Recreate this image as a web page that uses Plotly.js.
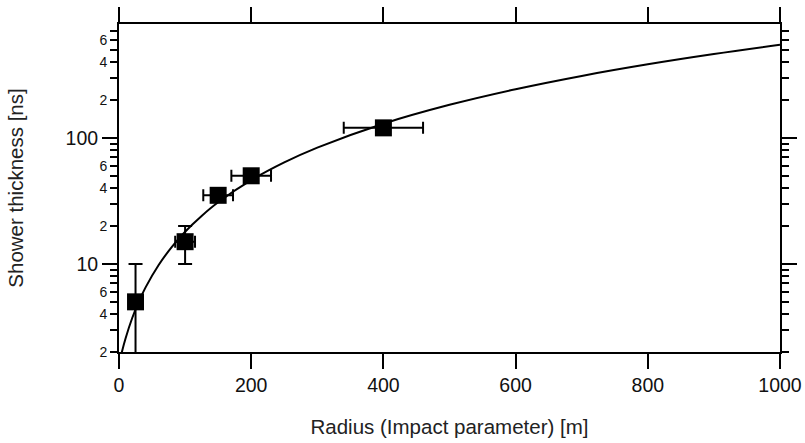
<!DOCTYPE html>
<html>
<head>
<meta charset="utf-8">
<script src="https://cdn.plot.ly/plotly-3.0.1.min.js"></script>
<style>html,body{margin:0;padding:0;background:#fff;}#chart{width:805px;height:443px;}</style>
</head>
<body>
<div id="chart"></div>
<script>
// Measured points
var radius = [25, 100, 150, 200, 400];
var thickness = [5, 15, 35, 50, 120];
var radiusErr = [3.75, 15, 22.5, 30, 60];
var thicknessErrPlus = [5, 5, 0, 0, 0];
var thicknessErrMinus = [5, 5, 0, 0, 0];

// Fitted curve
var curveX = [0, 4.35, 10, 20, 30, 40, 60, 80, 100, 125, 150, 200, 250, 300, 400, 500, 600, 700, 800, 900, 1000];
var curveY = [1.6, 2.0, 2.57, 3.72, 5.02, 6.48, 9.8, 13.65, 18.0, 24.0, 30.8, 46.1, 63.8, 83.6, 129.5, 182.8, 243.1, 310, 383, 462, 547];

// Tick labels
var xTicks = [0, 200, 400, 600, 800, 1000];
var yMajorTicks = [10, 100];
var yLabelledMinor = [2, 4, 6, 20, 40, 60, 200, 400, 600];
var yLabelledMinorText = ['2', '4', '6', '2', '4', '6', '2', '4', '6'];
var yPlainMinor = [3, 5, 7, 8, 9, 30, 50, 70, 80, 90, 300, 500, 700];

var FONT = 'Liberation Sans, Arial, Helvetica, sans-serif';
var yRange = [Math.log10(2), Math.log10(800)];

var traces = [
  {
    x: curveX, y: curveY, type: 'scatter', mode: 'lines',
    line: {color: '#000', width: 2, shape: 'spline'},
    hoverinfo: 'skip', showlegend: false
  },
  {
    x: radius, y: thickness, type: 'scatter', mode: 'markers',
    marker: {symbol: 'square', size: 17, color: '#000'},
    error_x: {type: 'data', array: radiusErr, visible: true, color: '#000', thickness: 2, width: 6},
    error_y: {type: 'data', array: thicknessErrPlus, arrayminus: thicknessErrMinus, symmetric: false, visible: true, color: '#000', thickness: 2, width: 7},
    showlegend: false
  },
  {x: [], y: [], yaxis: 'y2', type: 'scatter', showlegend: false},
  {x: [], y: [], yaxis: 'y3', type: 'scatter', showlegend: false}
];

var layout = {
  width: 805, height: 443,
  margin: {l: 119, r: 25, t: 24, b: 91},
  paper_bgcolor: '#fff', plot_bgcolor: '#fff',
  font: {family: FONT, color: '#000'},
  showlegend: false,
  xaxis: {
    range: [0, 1000], tickmode: 'array', tickvals: xTicks,
    ticks: 'outside', ticklen: 15, tickwidth: 2, tickcolor: '#000',
    showline: true, linecolor: '#000', linewidth: 2, mirror: 'ticks',
    showgrid: false, zeroline: false,
    tickfont: {size: 19.5, family: FONT, color: '#111'},
    title: {text: 'Radius (Impact parameter) [m]', font: {size: 20.5, family: FONT, color: '#222'}, standoff: 24}
  },
  yaxis: {
    type: 'log', range: yRange, tickmode: 'array', tickvals: yMajorTicks, ticktext: ['10', '100'],
    ticks: 'outside', ticklen: 15, tickwidth: 2, tickcolor: '#000',
    showline: true, linecolor: '#000', linewidth: 2, mirror: 'ticks',
    showgrid: false, zeroline: false,
    tickfont: {size: 19.5, family: FONT, color: '#111'},
    title: {text: 'Shower thickness [ns]', font: {size: 20.5, family: FONT, color: '#222'}, standoff: 36}
  },
  yaxis2: {
    type: 'log', range: yRange, overlaying: 'y', side: 'left', tickmode: 'array',
    tickvals: yLabelledMinor, ticktext: yLabelledMinorText,
    ticks: 'outside', ticklen: 8, tickwidth: 2, tickcolor: '#000',
    showline: false, mirror: 'ticks', showgrid: false, zeroline: false,
    tickfont: {size: 14, family: FONT, color: '#111'}
  },
  yaxis3: {
    type: 'log', range: yRange, overlaying: 'y', side: 'left', tickmode: 'array',
    tickvals: yPlainMinor, showticklabels: false,
    ticks: 'outside', ticklen: 8, tickwidth: 2, tickcolor: '#000',
    showline: false, mirror: 'ticks', showgrid: false, zeroline: false
  }
};

Plotly.newPlot('chart', traces, layout, {displayModeBar: false, staticPlot: true});
</script>
</body>
</html>
